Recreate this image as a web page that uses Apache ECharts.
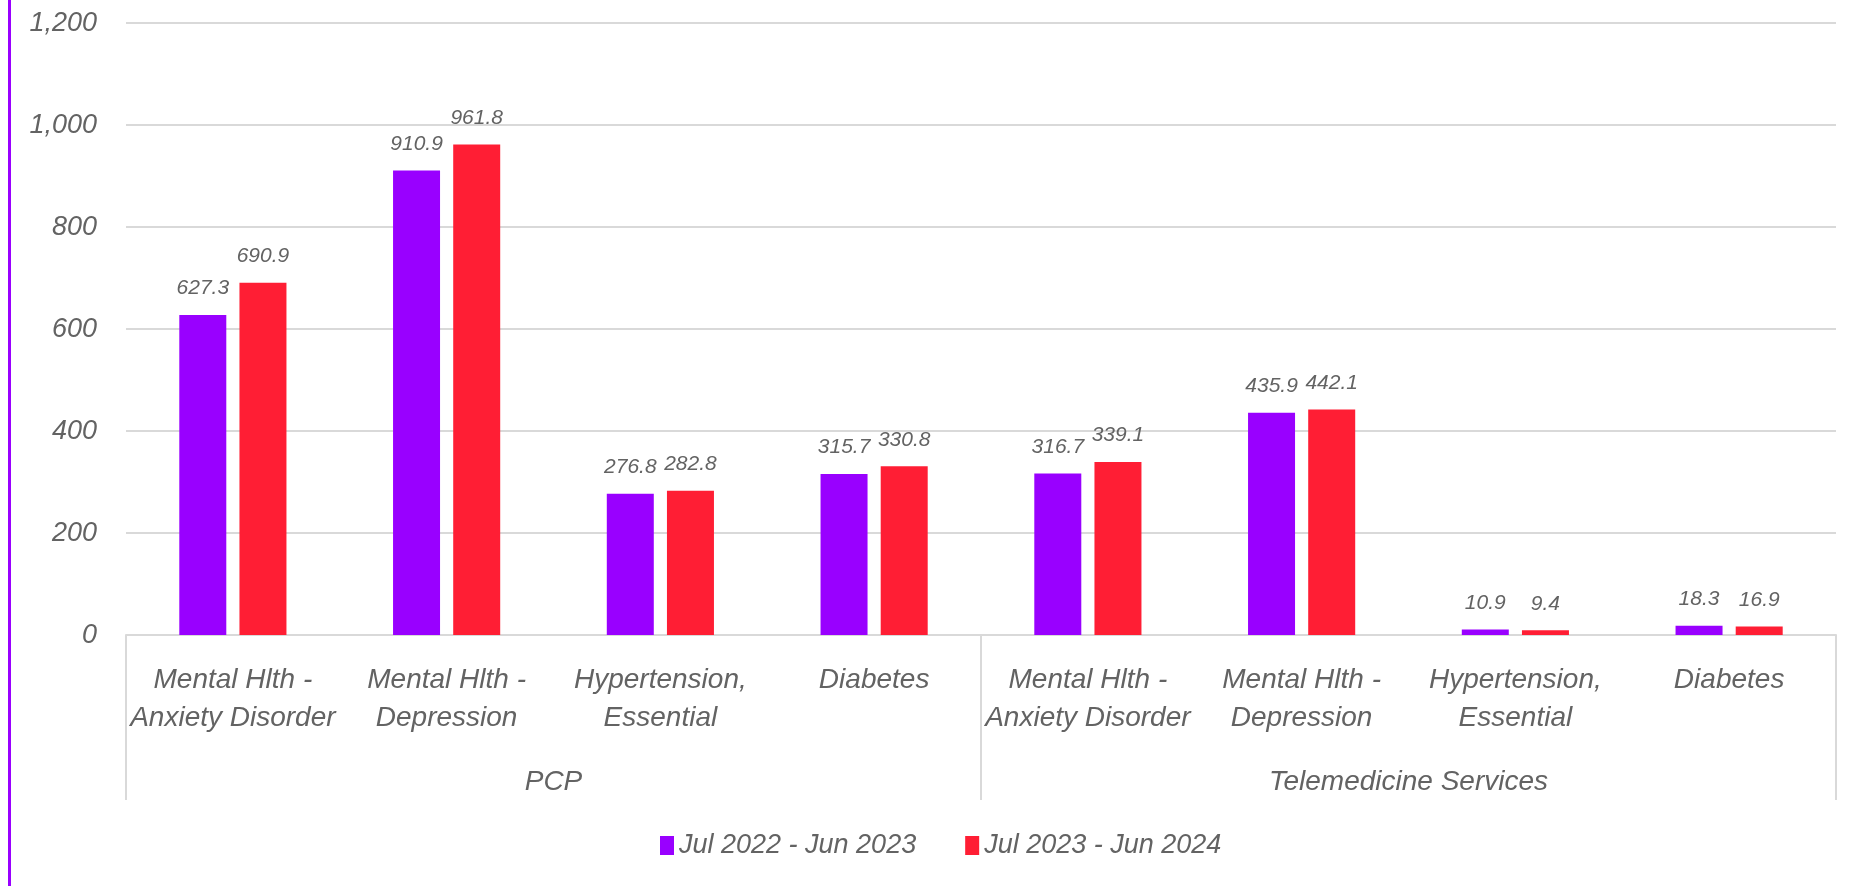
<!DOCTYPE html>
<html>
<head>
<meta charset="utf-8">
<title>Visits by condition</title>
<script src="https://cdn.jsdelivr.net/npm/echarts@6/dist/echarts.min.js"></script>
<style>
  html, body { margin: 0; padding: 0; background: #fff; }
  #chart { width: 1851px; height: 886px; }
  .frame { position: absolute; left: 8px; top: 0; width: 3px; height: 886px; background: #9900ff; }
</style>
</head>
<body>
<div class="frame"></div>
<div id="chart"></div>
<script>
// categories (two-level x axis)
const categories = [
  'Mental Hlth -\nAnxiety Disorder', 'Mental Hlth -\nDepression', 'Hypertension,\nEssential', 'Diabetes',
  'Mental Hlth -\nAnxiety Disorder', 'Mental Hlth -\nDepression', 'Hypertension,\nEssential', 'Diabetes'
]
const groups = ['PCP', 'Telemedicine Services']
const seriesNames = ['Jul 2022 - Jun 2023', 'Jul 2023 - Jun 2024']
// values
const period1 = [627.3, 910.9, 276.8, 315.7, 316.7, 435.9, 10.9, 18.3]
const period2 = [690.9, 961.8, 282.8, 330.8, 339.1, 442.1, 9.4, 16.9]
const yTicks = [0, 200, 400, 600, 800, 1000, 1200]

const textColor = '#636363'
const font = 'Liberation Sans'

const chart = echarts.init(document.getElementById('chart'))

const barLabel = {
  show: true,
  position: 'top',
  distance: 16,
  color: textColor,
  fontStyle: 'italic',
  fontFamily: font,
  fontSize: 21,
  formatter: p => p.value.toFixed(1)
}

chart.setOption({
  animation: false,
  grid: { left: 126, right: 15, top: 23, bottom: 251 },
  legend: {
    left: 655,
    top: 827,
    itemWidth: 14,
    itemHeight: 19,
    itemGap: 49,
    icon: 'rect',
    textStyle: { color: textColor, fontStyle: 'italic', fontFamily: font, fontSize: 27 },
    data: seriesNames
  },
  xAxis: [
    {
      type: 'category',
      data: categories,
      axisLine: { lineStyle: { color: '#d9d9d9', width: 2 } },
      axisTick: { show: false },
      axisLabel: {
        interval: 0,
        margin: 26,
        color: textColor,
        fontStyle: 'italic',
        fontFamily: font,
        fontSize: 28,
        lineHeight: 38
      }
    },
    {
      type: 'category',
      position: 'bottom',
      data: groups,
      axisLine: { show: false },
      axisTick: { show: true, length: 165, lineStyle: { color: '#d9d9d9', width: 2 } },
      axisLabel: {
        margin: 128,
        color: textColor,
        fontStyle: 'italic',
        fontFamily: font,
        fontSize: 28,
        lineHeight: 38
      }
    }
  ],
  yAxis: {
    type: 'value',
    min: yTicks[0],
    max: yTicks[yTicks.length - 1],
    interval: 200,
    axisLine: { show: false },
    axisTick: { show: false },
    splitLine: { lineStyle: { color: '#d9d9d9', width: 2 } },
    axisLabel: {
      margin: 29,
      color: textColor,
      fontStyle: 'italic',
      fontFamily: font,
      fontSize: 27,
      formatter: v => v.toLocaleString('en-US')
    }
  },
  series: [
    {
      name: seriesNames[0],
      type: 'bar',
      barWidth: 47,
      barGap: '28%',
      itemStyle: { color: '#9900ff' },
      label: barLabel,
      data: period1
    },
    {
      name: seriesNames[1],
      type: 'bar',
      barWidth: 47,
      barGap: '28%',
      itemStyle: { color: '#ff1e34' },
      label: barLabel,
      data: period2
    }
  ]
})
</script>
</body>
</html>
